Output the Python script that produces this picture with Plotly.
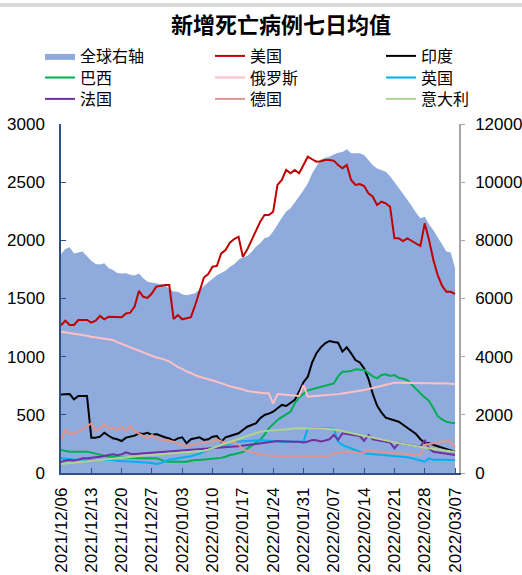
import pandas as pd
import plotly.graph_objects as go

dates = pd.date_range("2021-12-06", "2022-03-07", freq="D")

global_right = [7530, 7700, 7760, 7550, 7580, 7620, 7450, 7300, 7190, 7170,
                7210, 7050, 6980, 6880, 6860, 6870, 6820, 6790, 6860, 6700,
                6580, 6550, 6520, 6500, 6460, 6330, 6240, 6230, 6150, 6110,
                6140, 6180, 6320, 6420, 6560, 6680, 6800, 6880, 6950, 7090,
                7180, 7330, 7420, 7460, 7600, 7780, 7900, 8070, 8125, 8300,
                8560, 8780, 8990, 9100, 9300, 9500, 9720, 9950, 10300, 10550,
                10780, 10840, 10870, 10950, 11010, 11040, 11130, 10990, 11000, 10990,
                10930, 10760, 10580, 10470, 10420, 10360, 10200, 10020, 9800, 9600,
                9400, 9180, 8950, 8760, 8810, 8550, 8350, 8100, 7850, 7620,
                7580, 7050]

usa = [1270, 1310, 1272, 1272, 1315, 1315, 1315, 1292, 1310, 1350,
       1321, 1344, 1344, 1344, 1338, 1372, 1378, 1430, 1565, 1515,
       1505, 1545, 1602, 1607, 1616, 1616, 1324, 1358, 1321, 1330,
       1340, 1444, 1573, 1680, 1710, 1773, 1780, 1888, 1917, 1980,
       2011, 2031, 1859, 1920, 2000, 2074, 2160, 2218, 2218, 2246,
       2476, 2519, 2605, 2576, 2605, 2576, 2648, 2719, 2697, 2676,
       2680, 2690, 2690, 2685, 2648, 2619, 2648, 2519, 2476, 2483,
       2467, 2404, 2375, 2304, 2332, 2318, 2289, 2017, 2017, 1994,
       2017, 1994, 1974, 1951, 2146, 2003, 1831, 1700, 1610, 1558,
       1558, 1539]

india = [675, 679, 679, 633, 662, 662, 662, 304, 304, 312,
         346, 320, 298, 290, 275, 304, 312, 321, 341, 336,
         346, 327, 335, 318, 307, 298, 278, 298, 307, 255,
         290, 298, 307, 284, 290, 312, 318, 269, 307, 318,
         327, 341, 370, 398, 413, 427, 470, 499, 510, 527,
         556, 585, 576, 600, 628, 700, 780, 828, 950, 1030,
         1080, 1115, 1135, 1126, 1120, 1043, 1080, 1029, 971, 950,
         900, 810, 680, 580, 520, 475, 464, 450, 441, 415,
         390, 360, 335, 290, 260, 255, 245, 230, 218, 205,
         195, 183]

brazil = [198, 190, 183, 183, 183, 183, 183, 175, 165, 155,
          148, 140, 138, 135, 132, 131, 130, 128, 126, 126,
          126, 126, 126, 115, 100, 97, 97, 97, 97, 97,
          105, 112, 112, 115, 117, 120, 124, 130, 140, 155,
          162, 169, 180, 210, 235, 255, 284, 330, 384, 420,
          456, 480, 505, 527, 600, 650, 680, 710, 720, 730,
          740, 750, 765, 770, 830, 871, 873, 876, 891, 887,
          885, 860, 830, 814, 842, 848, 834, 842, 819, 810,
          799, 760, 720, 685, 650, 620, 556, 490, 460, 441,
          432, 427]

russia = [1215, 1210, 1205, 1200, 1193, 1186, 1180, 1172, 1165, 1158,
          1153, 1148, 1143, 1125, 1110, 1093, 1080, 1068, 1052, 1035,
          1018, 1005, 993, 985, 975, 960, 935, 910, 895, 872,
          860, 840, 828, 815, 805, 795, 785, 775, 760, 745,
          737, 730, 718, 705, 699, 693, 688, 685, 685, 599,
          679, 675, 670, 667, 664, 662, 756, 656, 659, 662,
          664, 666, 668, 672, 678, 684, 690, 692, 697, 705,
          713, 722, 732, 742, 752, 762, 770, 776, 776, 776,
          776, 776, 776, 776, 776, 776, 776, 775, 772, 770,
          768, 765]

uk = [126, 122, 120, 117, 117, 118, 115, 112, 112, 112,
      117, 115, 110, 104, 102, 100, 98, 97, 97, 95,
      92, 85, 77, 83, 100, 115, 120, 126, 130, 140,
      145, 155, 165, 183, 198, 210, 225, 235, 245, 255,
      262, 269, 272, 275, 278, 280, 282, 280, 275, 272,
      270, 269, 269, 269, 269, 269, 269, 384, 386, 388,
      386, 385, 384, 380, 269, 240, 226, 210, 195, 180,
      169, 165, 162, 160, 157, 155, 152, 150, 146, 142,
      135, 128, 118, 106, 97, 126, 112, 115, 112, 112,
      112, 112]

france = [95, 108, 112, 105, 115, 126, 126, 128, 135, 140,
          145, 155, 161, 152, 160, 178, 165, 163, 168, 170,
          172, 175, 178, 180, 183, 185, 188, 192, 195, 198,
          202, 206, 210, 212, 213, 215, 218, 220, 222, 225,
          228, 230, 233, 238, 245, 250, 255, 262, 268, 272,
          275, 273, 270, 269, 268, 269, 262, 270, 284, 282,
          272, 280, 290, 327, 284, 341, 336, 332, 327, 318,
          275, 327, 290, 282, 275, 269, 262, 212, 255, 250,
          245, 241, 236, 226, 284, 210, 183, 178, 172, 169,
          162, 155]

germany = [290, 370, 335, 341, 355, 384, 398, 427, 355, 390,
           420, 384, 389, 370, 398, 355, 405, 360, 341, 320,
           298, 327, 298, 284, 284, 278, 269, 255, 241, 226,
           241, 250, 255, 258, 265, 270, 290, 275, 255, 258,
           262, 250, 200, 190, 180, 170, 160, 155, 150, 146,
           144, 144, 145, 145, 146, 146, 147, 148, 148, 147,
           146, 146, 146, 169, 175, 183, 183, 183, 178, 169,
           175, 198, 190, 185, 183, 180, 175, 170, 169, 165,
           160, 158, 155, 152, 241, 250, 255, 258, 265, 275,
           269, 221]

italy = [77, 80, 83, 87, 92, 97, 100, 105, 109, 112,
         115, 120, 124, 126, 130, 133, 137, 140, 144, 148,
         152, 155, 158, 162, 166, 170, 174, 177, 180, 183,
         185, 185, 186, 192, 200, 215, 230, 243, 255, 268,
         280, 295, 305, 318, 330, 345, 355, 360, 364, 367,
         370, 373, 376, 379, 382, 384, 385, 385, 385, 384,
         383, 380, 378, 375, 370, 360, 350, 340, 332, 326,
         320, 313, 305, 298, 290, 280, 272, 262, 255, 248,
         240, 234, 228, 224, 218, 212, 206, 200, 196, 192,
         187, 183]

tick_dates = pd.date_range("2021-12-06", "2022-03-07", freq="7D")
tick_labels = [d.strftime("%Y/%m/%d") for d in tick_dates]

CJK = "Noto Sans CJK SC, Liberation Sans, sans-serif"
NUM = "Liberation Sans, Arial, sans-serif"

W, H = 522, 575
L, R, T, B = 61, 63, 124, 102
PW, PH = W - L - R, H - T - B

def px_x(x):
    return (x - L) / PW

def px_y(y):
    return 1 + (T - y) / PH

fig = go.Figure()

fig.add_trace(go.Scatter(
    x=dates, y=global_right, name="全球右轴", mode="lines",
    fill="tozeroy", fillcolor="#8faadc", line=dict(color="#8faadc", width=0),
    yaxis="y", legend="legend"))

# name, values, colour, legend slot (col, row)
lines = [
    ("美国", usa, "#c00000", (1, 0)),
    ("印度", india, "#000000", (2, 0)),
    ("巴西", brazil, "#00b050", (0, 1)),
    ("俄罗斯", russia, "#ffc0c4", (1, 1)),
    ("英国", uk, "#00b0f0", (2, 1)),
    ("法国", france, "#7030a0", (0, 2)),
    ("德国", germany, "#e0958f", (1, 2)),
    ("意大利", italy, "#b0d38f", (2, 2)),
]

col_sym = [45, 215, 386]
row_y = [56, 77.5, 99]

legends = {}
leg_common = dict(
    orientation="v", yanchor="middle", xanchor="left",
    font=dict(family=CJK, size=16, color="#000000"),
    bgcolor="rgba(0,0,0,0)", itemwidth=30, borderwidth=0,
)
legends["legend"] = dict(x=px_x(col_sym[0] - 5), y=px_y(row_y[0]), **leg_common)

for i, (name, vals, col, (c, r)) in enumerate(lines):
    key = "legend%d" % (i + 2)
    legends[key] = dict(x=px_x(col_sym[c] - 5), y=px_y(row_y[r]), **leg_common)
    fig.add_trace(go.Scatter(
        x=dates, y=vals, name=name, mode="lines",
        line=dict(color=col, width=2), yaxis="y2", legend=key))

fig.update_layout(
    width=W, height=H,
    margin=dict(l=L, r=R, t=T, b=B, autoexpand=False),
    paper_bgcolor="white", plot_bgcolor="white",
    showlegend=True,
    title=dict(text="<b>新增死亡病例七日均值</b>", x=281 / W, xanchor="center",
               y=1 - 25 / H, yanchor="middle",
               font=dict(family=CJK, size=22, color="#000000")),
    xaxis=dict(
        type="date", range=["2021-12-06", "2022-03-07 22:00"],
        tickvals=tick_dates, ticktext=tick_labels, tickangle=-90,
        showline=True, linecolor="#2f4f86", linewidth=1.5,
        ticks="inside", ticklen=5, tickcolor="#2f4f86",
        showgrid=False, zeroline=False, automargin=False,
        tickfont=dict(family=NUM, size=17, color="#000000"),
        ticklabelstandoff=6,
    ),
    yaxis=dict(
        side="right", range=[0, 12000],
        tickvals=[0, 2000, 4000, 6000, 8000, 10000, 12000], tickformat="d",
        showline=True, linecolor="#a6a6a6", linewidth=1.5,
        ticks="outside", ticklen=4, tickcolor="#a6a6a6",
        showgrid=False, zeroline=False, automargin=False,
        tickfont=dict(family=NUM, size=17, color="#000000"),
        ticklabelstandoff=7,
    ),
    yaxis2=dict(
        side="left", overlaying="y", range=[0, 3000],
        tickvals=[0, 500, 1000, 1500, 2000, 2500, 3000], tickformat="d",
        showline=True, linecolor="#2f4f86", linewidth=1.5,
        ticks="inside", ticklen=5, tickcolor="#2f4f86",
        showgrid=False, zeroline=False, automargin=False,
        tickfont=dict(family=NUM, size=17, color="#000000"),
        ticklabelstandoff=11,
    ),
    shapes=[dict(type="rect", xref="paper", yref="paper",
                 x0=px_x(0), x1=px_x(W),
                 y0=px_y(7), y1=px_y(3),
                 fillcolor="#d9d9d9", line=dict(width=0), layer="above")],
    **legends,
)

fig.write_html("out.html", config={"displayModeBar": False},
               post_script="document.body.style.margin='0';")
